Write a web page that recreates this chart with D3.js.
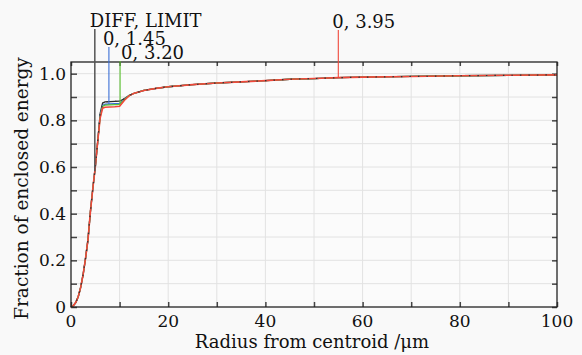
<!DOCTYPE html>
<html>
<head>
<meta charset="utf-8">
<script src="https://cdn.jsdelivr.net/npm/d3@7/dist/d3.min.js"></script>
<style>
  body { margin: 0; background: #f9f9f9; }
</style>
</head>
<body>
<svg id="chart" width="582" height="355" font-family="'DejaVu Serif', serif"></svg>
<script>
// radius from centroid (um)
const radius = [0, 0.5, 1, 1.5, 2, 2.5, 3, 3.5, 4, 4.5, 5, 5.5, 6, 6.5, 7, 8, 9, 10, 11, 12, 13, 15, 17.5, 20, 25, 30, 35, 40, 45, 50, 55, 60, 70, 80, 90, 100];

// fraction of enclosed energy per field
const diffLimit = [0, 0.006, 0.02, 0.045, 0.085, 0.14, 0.21, 0.29, 0.41, 0.51, 0.60, 0.71, 0.83, 0.874, 0.879, 0.88, 0.881, 0.882, 0.893, 0.907, 0.916, 0.928, 0.937, 0.944, 0.953, 0.96, 0.965, 0.97, 0.976, 0.979, 0.983, 0.985, 0.988, 0.991, 0.993, 0.995];
const field145 = [0, 0.006, 0.02, 0.045, 0.085, 0.14, 0.21, 0.29, 0.41, 0.51, 0.60, 0.71, 0.82, 0.864, 0.869, 0.87, 0.871, 0.872, 0.89, 0.907, 0.916, 0.928, 0.937, 0.944, 0.953, 0.96, 0.965, 0.97, 0.976, 0.979, 0.983, 0.985, 0.988, 0.991, 0.993, 0.995];
const field320 = [0, 0.006, 0.02, 0.045, 0.085, 0.14, 0.21, 0.29, 0.41, 0.51, 0.60, 0.71, 0.815, 0.86, 0.865, 0.866, 0.867, 0.868, 0.889, 0.907, 0.916, 0.928, 0.937, 0.944, 0.953, 0.96, 0.965, 0.97, 0.976, 0.979, 0.983, 0.985, 0.988, 0.991, 0.993, 0.995];
const field395 = [0, 0.006, 0.02, 0.045, 0.085, 0.14, 0.21, 0.29, 0.41, 0.51, 0.60, 0.71, 0.81, 0.852, 0.856, 0.857, 0.858, 0.86, 0.886, 0.906, 0.916, 0.928, 0.937, 0.944, 0.953, 0.96, 0.965, 0.97, 0.976, 0.979, 0.983, 0.985, 0.988, 0.991, 0.993, 0.995];

// labels drawn at the top, with the radius where each leader line sits
const labelText = ['DIFF, LIMIT', '0, 1.45', '0, 3.20', '0, 3.95'];
const labelRadius = [4.9, 7.8, 10.1, 55];

const xTickLabels = [0, 20, 40, 60, 80, 100];
const yTickLabels = [0, 0.2, 0.4, 0.6, 0.8, 1.0];

const series = [
  { vals: diffLimit, color: '#2b2b2b' },
  { vals: field145, color: '#3b6fd6' },
  { vals: field320, color: '#5cc232' },
  { vals: field395, color: '#f0473a' }
];

const svg = d3.select('#chart');
const m = { left: 71, top: 62, right: 557, bottom: 307 };

const x = d3.scaleLinear().domain([0, 100]).range([m.left, m.right]);
const y = d3.scaleLinear().domain([0, 1.05]).range([m.bottom, m.top]);

// plot background
svg.append('rect')
  .attr('x', m.left).attr('y', m.top)
  .attr('width', m.right - m.left).attr('height', m.bottom - m.top)
  .attr('fill', '#fbfbfb');

// grid
const grid = svg.append('g');
grid.selectAll('.vg').data(d3.range(10, 100, 10)).enter().append('line')
  .attr('x1', d => x(d)).attr('x2', d => x(d))
  .attr('y1', m.top).attr('y2', m.bottom)
  .attr('stroke', '#e2e2e2').attr('stroke-width', 1);
grid.selectAll('.hg').data(d3.range(0.1, 1.05, 0.1)).enter().append('line')
  .attr('x1', m.left).attr('x2', m.right)
  .attr('y1', d => y(d)).attr('y2', d => y(d))
  .attr('stroke', '#e2e2e2').attr('stroke-width', 1);

// axes (ticks pointing inward)
const xTicks = d3.range(0, 101, 10);
const yTicks = d3.range(0, 1.01, 0.1);

svg.append('g').attr('transform', `translate(0,${m.bottom})`)
  .call(d3.axisTop(x).tickValues(xTicks).tickSize(5).tickFormat(''))
  .call(g => g.select('.domain').remove());
svg.append('g').attr('transform', `translate(0,${m.top})`)
  .call(d3.axisBottom(x).tickValues(xTicks).tickSize(4).tickFormat(''))
  .call(g => g.select('.domain').remove());
svg.append('g').attr('transform', `translate(${m.left},0)`)
  .call(d3.axisRight(y).tickValues(yTicks).tickSize(6).tickFormat(''))
  .call(g => g.select('.domain').remove());
svg.append('g').attr('transform', `translate(${m.right},0)`)
  .call(d3.axisLeft(y).tickValues(yTicks).tickSize(5).tickFormat(''))
  .call(g => g.select('.domain').remove());
svg.selectAll('.tick line').attr('stroke', '#444').attr('stroke-width', 1.5);

const FONT = "'DejaVu Serif', serif";

// tick labels
svg.selectAll('.xl').data(xTickLabels).enter().append('text')
  .attr('x', d => x(d)).attr('y', 327)
  .attr('text-anchor', 'middle').attr('font-size', 17)
  .attr('font-family', FONT).attr('fill', '#111')
  .text(d => d);
svg.selectAll('.yl').data(yTickLabels).enter().append('text')
  .attr('x', 66).attr('y', d => y(d) + 6)
  .attr('text-anchor', 'end').attr('font-size', 17)
  .attr('font-family', FONT).attr('fill', '#111')
  .text(d => d === 0 ? '0' : d.toFixed(1));

// axis titles
svg.append('text')
  .attr('x', (m.left + m.right) / 2 - 2).attr('y', 348)
  .attr('text-anchor', 'middle').attr('font-size', 18)
  .attr('font-family', FONT).attr('fill', '#111')
  .text('Radius from centroid /\u03bcm');
svg.append('text')
  .attr('transform', `translate(28,${(m.top + m.bottom) / 2 + 4}) rotate(-90)`)
  .attr('text-anchor', 'middle').attr('font-size', 18.5)
  .attr('font-family', FONT).attr('fill', '#111')
  .text('Fraction of enclosed energy');

// curves
const line = d3.line()
  .x((d, i) => x(radius[i]))
  .y(d => y(d));

series.forEach((s, i) => {
  svg.append('path')
    .datum(s.vals)
    .attr('d', line)
    .attr('fill', 'none')
    .attr('stroke', s.color)
    .attr('stroke-width', i === 3 ? 1.6 : 1.3);
});
// dark dashes peeking through on top
svg.append('path')
  .datum(diffLimit)
  .attr('d', line)
  .attr('fill', 'none')
  .attr('stroke', '#333')
  .attr('stroke-width', 1.2)
  .attr('stroke-dasharray', '1.5,7');

// frame
svg.append('rect')
  .attr('x', m.left).attr('y', m.top)
  .attr('width', m.right - m.left).attr('height', m.bottom - m.top)
  .attr('fill', 'none').attr('stroke', '#222').attr('stroke-width', 1.3);

// leader lines with labels
const labelBase = [27, 45, 59, 28];
const labelShift = [-5, -6, 1, -6];
const leaderColor = ['#555', '#3b6fd6', '#5cc232', '#f0473a'];

function valueAt(vals, r) {
  const i = d3.bisectRight(radius, r) - 1;
  const t = (r - radius[i]) / (radius[i + 1] - radius[i]);
  return vals[i] + t * (vals[i + 1] - vals[i]);
}

labelText.forEach((txt, i) => {
  const r = labelRadius[i];
  svg.append('line')
    .attr('x1', x(r)).attr('x2', x(r))
    .attr('y1', labelBase[i] + 2)
    .attr('y2', y(valueAt(series[i].vals, r)))
    .attr('stroke', leaderColor[i])
    .attr('stroke-width', i === 0 ? 1.5 : 1.1);
  svg.append('text')
    .attr('x', x(r) + labelShift[i]).attr('y', labelBase[i])
    .attr('font-size', 18)
    .attr('font-family', FONT).attr('fill', '#111')
    .text(txt);
});
</script>
</body>
</html>
